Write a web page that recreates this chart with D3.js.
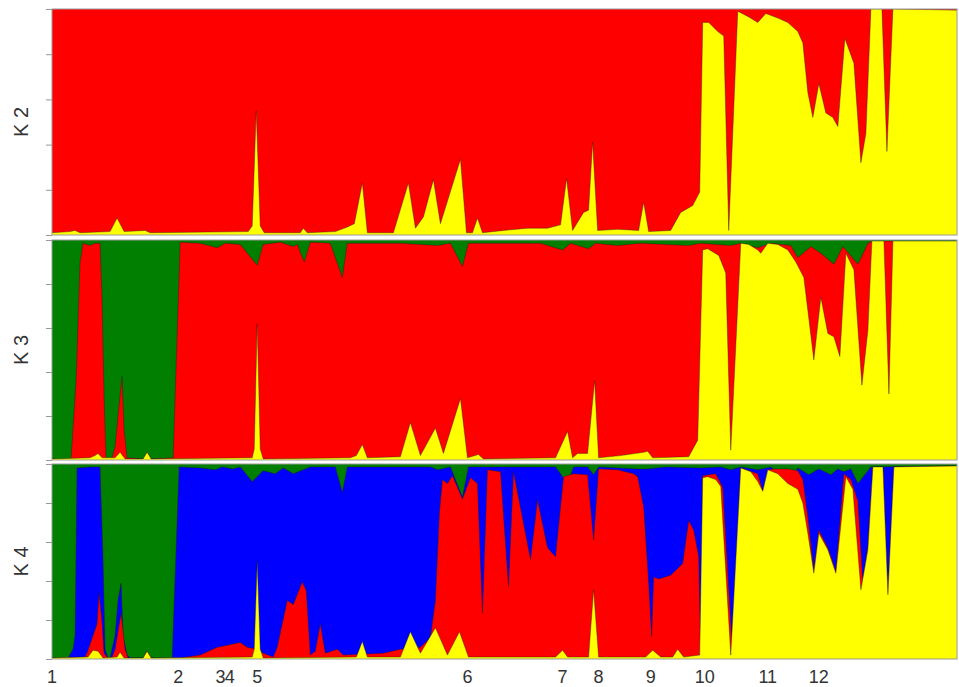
<!DOCTYPE html>
<html><head><meta charset="utf-8">
<script src="https://cdn.jsdelivr.net/npm/d3@7"></script>
<style>body{margin:0;background:#fff}svg{display:block}</style>
</head><body><svg id="c" width="959" height="687"></svg>
<script>
// individuals 0..226 (sorted by population)
const nInd = 226;
const popLabels = ["1","2","3","4","5","6","7","8","9","10","11","12"];
const popPos    = [0, 31.5, 42.05, 44.4, 51.25, 103.75, 127.5, 136.5, 149.5, 163, 178.75, 191.5];
const yTicks = [0, 0.2, 0.4, 0.6, 0.8, 1];

// K = 2 : cumulative membership (bottom cluster = yellow, remainder red)
const k2Yellow = [[0,0.01],[4.5,0.015],[5.75,0.02],[7,0.01],[14.5,0.015],[16.25,0.075],[18,0.015],[23.25,0.02],[24.5,0.01],
 [49,0.015],[50,0.04],[51,0.55],[52,0.04],[53,0.01],[62,0.01],[62.75,0.03],[63.75,0.01],[70.75,0.015],[73.75,0.035],[75.5,0.05],
 [77.5,0.23],[78.75,0.01],[85.25,0.01],[89,0.23],[90.75,0.03],[92.75,0.08],[95.25,0.245],[97,0.05],[102,0.335],[103.5,0.01],
 [105,0.01],[106.25,0.075],[107.5,0.01],[112.75,0.02],[118.75,0.03],[123.75,0.03],[127,0.045],[128.5,0.25],[130,0.02],
 [132.75,0.1],[134,0.11],[135,0.41],[136.25,0.02],[141.25,0.025],[146.5,0.02],[147.75,0.145],[149,0.015],[154.5,0.02],
 [157,0.1],[160,0.13],[161.75,0.19],[162.5,0.94],[164,0.94],[166.25,0.9],[167.75,0.88],[169,0.02],[171.25,0.99],[174,0.965],
 [176.25,0.94],[178.25,0.98],[181.25,0.96],[183.75,0.94],[186.25,0.9],[187.5,0.85],[188.75,0.63],[190,0.52],[191.5,0.67],
 [193.25,0.54],[195,0.52],[196.25,0.48],[198,0.87],[200.25,0.76],[202,0.32],[203.25,0.45],[204.5,1],[207.25,1],[208.5,0.37],
 [210,1],[226,0.995]];

// K = 3 : yellow (bottom), yellow+red, remainder green
const k3Yellow = [[0,0.005],[9.5,0.01],[10.75,0.02],[11.5,0.03],[12.5,0.01],[15.75,0.01],[17,0.035],[18.25,0.005],[22.75,0.005],
 [23.75,0.035],[24.75,0.005],[50,0.01],[50.5,0.05],[51.25,0.62],[52,0.05],[52.75,0.005],[74.5,0.01],[76,0.02],[77.5,0.07],
 [78.75,0.01],[87,0.015],[89.5,0.17],[92,0.02],[95.75,0.145],[97.75,0.03],[102,0.28],[103.75,0.01],[106.5,0.025],[107.75,0.005],
 [125.75,0.01],[128.75,0.13],[130,0.01],[131.25,0.03],[133.75,0.03],[135.5,0.36],[136.5,0.01],[142,0.02],[147.75,0.035],
 [148.75,0.04],[150,0.01],[159,0.015],[161.25,0.09],[162.5,0.955],[163.75,0.96],[166.5,0.93],[168.25,0.85],[169.5,0.045],
 [172,0.985],[174,0.98],[176.25,0.955],[177,0.94],[178.75,0.985],[181.25,0.98],[183.75,0.955],[185.75,0.9],[187.75,0.83],
 [190.25,0.455],[192,0.74],[193.75,0.575],[195.25,0.56],[196.75,0.47],[198.25,0.94],[200.25,0.865],[202.25,0.34],[203.75,0.59],
 [204.75,0.995],[207.75,0.995],[209,0.3],[210,0.995],[226,0.995]];
const k3Red = [[0,0.003],[4.75,0.005],[6,0.35],[7,0.9],[7.75,0.985],[9.5,0.975],[10.75,0.985],[12,0.985],[12.5,0.74],[13,0.29],
 [13.5,0.01],[15,0.01],[15.75,0.06],[16.75,0.25],[17.5,0.38],[18,0.14],[18.75,0.01],[22.75,0.005],[23.75,0.035],[24.75,0.005],
 [30.25,0.01],[32,0.99],[37,0.985],[41.25,0.965],[43.25,0.985],[47,0.98],[51.25,0.885],[52.75,0.98],[57,0.99],[60.25,0.97],
 [61.25,0.98],[63,0.9],[64.5,0.99],[69.5,0.985],[72.5,0.83],[73.75,0.985],[87,0.985],[96.25,0.975],[99.5,0.985],[102.5,0.88],
 [104,0.985],[122,0.985],[127.5,0.955],[129.5,0.985],[134,0.96],[135.75,0.985],[141.25,0.975],[147,0.985],[159,0.975],
 [162,0.985],[169.5,0.975],[172,0.985],[176.25,0.965],[179.5,0.985],[184.5,0.975],[186.25,0.92],[189.5,0.97],[192,0.94],
 [195.25,0.89],[197.5,0.97],[201.25,0.89],[203.75,0.985],[204.75,0.995],[226,0.995]];

// K = 4 : yellow, yellow+red, yellow+red+blue, remainder green
const k4Yellow = [[0,0.005],[9,0.01],[10.25,0.045],[11.5,0.04],[12.75,0.005],[16.25,0.01],[17,0.035],[18,0.005],[22.75,0.005],
 [23.75,0.04],[24.75,0.005],[50,0.01],[50.5,0.05],[51.25,0.5],[52,0.05],[52.75,0.005],[76,0.01],[77.5,0.09],[78.75,0.01],
 [87,0.01],[89.5,0.14],[92,0.03],[95.75,0.16],[98.75,0.02],[101.75,0.14],[104,0.01],[125.75,0.01],[127.5,0.045],[128.75,0.01],
 [134,0.01],[135.25,0.355],[136.5,0.01],[148.25,0.01],[150,0.045],[152,0.01],[155,0.01],[156.25,0.05],[157.75,0.01],
 [161.75,0.02],[162.5,0.93],[163.75,0.935],[165.75,0.92],[167,0.885],[169.5,0.02],[172,0.98],[174.5,0.96],[176.25,0.91],
 [177.5,0.86],[178.75,0.97],[181.25,0.95],[183.75,0.9],[186.25,0.87],[187.5,0.8],[188.75,0.645],[190.25,0.44],[191.5,0.645],
 [193.75,0.56],[195.75,0.44],[198.25,0.935],[200,0.87],[202,0.355],[203.75,0.56],[205,0.985],[207.5,0.985],[208.75,0.33],
 [210.25,0.985],[226,0.99]];
const k4Red = [[0,0.005],[8.25,0.01],[9,0.045],[11.25,0.18],[11.75,0.34],[12.5,0.18],[13,0.03],[14,0.005],[15,0.01],[15.75,0.05],
 [17.25,0.235],[18.25,0.05],[19,0.005],[22.75,0.005],[23.75,0.04],[24.75,0.005],[32,0.005],[37,0.02],[41.25,0.06],[43.75,0.07],
 [47,0.085],[48.75,0.06],[51.25,0.05],[52.75,0.03],[55.25,0.01],[56.25,0.06],[58.75,0.3],[60.25,0.28],[62.5,0.395],[63.5,0.35],
 [64.5,0.02],[65.75,0.04],[67,0.18],[68.25,0.03],[71.25,0.05],[72.75,0.02],[82.75,0.03],[87,0.05],[92,0.06],[94.5,0.11],
 [95.75,0.3],[96.75,0.75],[97.5,0.92],[98.75,0.9],[100,0.94],[102.5,0.82],[104.5,0.93],[106.25,0.9],[107.5,0.235],[108.75,0.97],
 [112,0.96],[114,0.37],[115.25,0.96],[119.5,0.51],[121.25,0.815],[123.75,0.57],[125.75,0.525],[127.75,0.935],[130.25,0.95],
 [133.75,0.945],[135.25,0.61],[136.5,0.975],[141.25,0.97],[145.25,0.95],[146.25,0.935],[147.75,0.78],[149,0.39],[149.75,0.115],
 [150.25,0.42],[151.5,0.41],[154.5,0.43],[157.5,0.49],[159,0.71],[160.25,0.66],[161.5,0.525],[162,0.02],[162.5,0.94],
 [165.75,0.95],[167.5,0.88],[169.75,0.1],[171,0.54],[172,0.98],[176.25,0.95],[177.5,0.86],[178.75,0.97],[180.25,0.975],
 [183.75,0.975],[186.25,0.965],[187.5,0.92],[188.75,0.73],[190.25,0.45],[191.5,0.66],[193.75,0.57],[195.75,0.45],[197.75,0.95],
 [199.5,0.92],[201.25,0.81],[202.5,0.39],[203.75,0.58],[205,0.985],[207.5,0.985],[208.75,0.33],[210.25,0.985],[226,0.99]];
const k4Blue = [[0,0],[4,0.005],[5.25,0.05],[5.75,0.12],[6.25,0.98],[9.5,0.985],[12,0.985],[12.75,0.5],[13.25,0.05],[14,0.005],
 [14.5,0.005],[15.75,0.12],[16.5,0.3],[17.25,0.39],[17.75,0.12],[18.75,0.02],[19.5,0.005],[22.75,0.005],[23.75,0.04],[24.75,0.005],
 [30,0.005],[31.75,0.985],[37,0.98],[40.75,0.97],[42.5,0.985],[45.25,0.975],[47,0.985],[50,0.91],[52.75,0.965],[55.75,0.95],
 [57.75,0.98],[60.25,0.95],[62.75,0.97],[64.5,0.985],[70.75,0.985],[72.5,0.855],[73.75,0.985],[94.5,0.985],[96.25,0.97],
 [99.5,0.985],[102.5,0.83],[104,0.985],[125.75,0.985],[128.75,0.9],[130.25,0.985],[133.75,0.985],[135.25,0.945],[136.5,0.985],
 [146.25,0.975],[148.75,0.975],[153.25,0.985],[162,0.98],[167,0.985],[169.5,0.97],[172,0.985],[176.25,0.97],[179.5,0.985],
 [184,0.9],[186.25,0.98],[189,0.945],[191.5,0.975],[194.5,0.945],[196.25,0.975],[197.75,0.96],[199.5,0.975],[201.25,0.9],
 [204.5,0.985],[226,0.99]];

const RED = "#ff0000", YEL = "#ffff00", GRN = "#007f00", BLU = "#0000ff";

const panels = [
  {label: "K 2", top: 9,   bottom: 235, bg: RED, layers: [[YEL, k2Yellow]]},
  {label: "K 3", top: 240, bottom: 460, bg: GRN, layers: [[RED, k3Red], [YEL, k3Yellow]]},
  {label: "K 4", top: 464, bottom: 659, bg: GRN, layers: [[BLU, k4Blue], [RED, k4Red], [YEL, k4Yellow]]}
];

const svg = d3.select("#c");
const x = d3.scaleLinear().domain([0, nInd]).range([52, 957]);

panels.forEach((p, i) => {
  const y = d3.scaleLinear().domain([0, 1]).range([p.bottom, p.top]);
  const clipId = "clip" + i;
  svg.append("clipPath").attr("id", clipId).append("rect")
    .attr("x", x(0)).attr("y", y(1)).attr("width", x(nInd) - x(0)).attr("height", y(0) - y(1));
  const g = svg.append("g").attr("clip-path", `url(#${clipId})`);
  g.append("rect").attr("x", x(0)).attr("y", y(1)).attr("width", x(nInd) - x(0)).attr("height", y(0) - y(1))
    .attr("fill", p.bg);
  const area = d3.area().x(d => x(d[0])).y0(y(0)).y1(d => y(d[1]));
  const line = d3.line().x(d => x(d[0])).y(d => y(d[1]));
  p.layers.forEach(([col, data]) => {
    g.append("path").datum(data).attr("d", area).attr("fill", col);
    g.append("path").datum(data).attr("d", line).attr("fill", "none")
      .attr("stroke", "#1a1a1a").attr("stroke-width", 0.7).attr("stroke-opacity", 0.55);
  });
  svg.append("rect").attr("x", x(0)).attr("y", y(1)).attr("width", x(nInd) - x(0)).attr("height", y(0) - y(1))
    .attr("fill", "none").attr("stroke", "#9a9a9a").attr("stroke-width", 1);
  const ax = svg.append("g").attr("transform", `translate(${x(0)},0)`)
    .call(d3.axisLeft(y).tickValues(yTicks).tickSize(6).tickFormat(""));
  ax.select(".domain").remove();
  ax.selectAll("line").attr("stroke", "#999");
  svg.append("text").attr("transform", `translate(28,${(p.top + p.bottom) / 2}) rotate(-90)`)
    .attr("text-anchor", "middle").attr("font-family", "Liberation Sans, Arial, sans-serif")
    .attr("font-size", 20).attr("fill", "#333").text(p.label);
});

svg.append("g").selectAll("text").data(popLabels).join("text")
  .attr("x", (d, i) => x(popPos[i])).attr("y", 683)
  .attr("text-anchor", "middle").attr("font-family", "Liberation Sans, Arial, sans-serif")
  .attr("font-size", 18).attr("fill", "#333").text(d => d);
</script></body></html>
